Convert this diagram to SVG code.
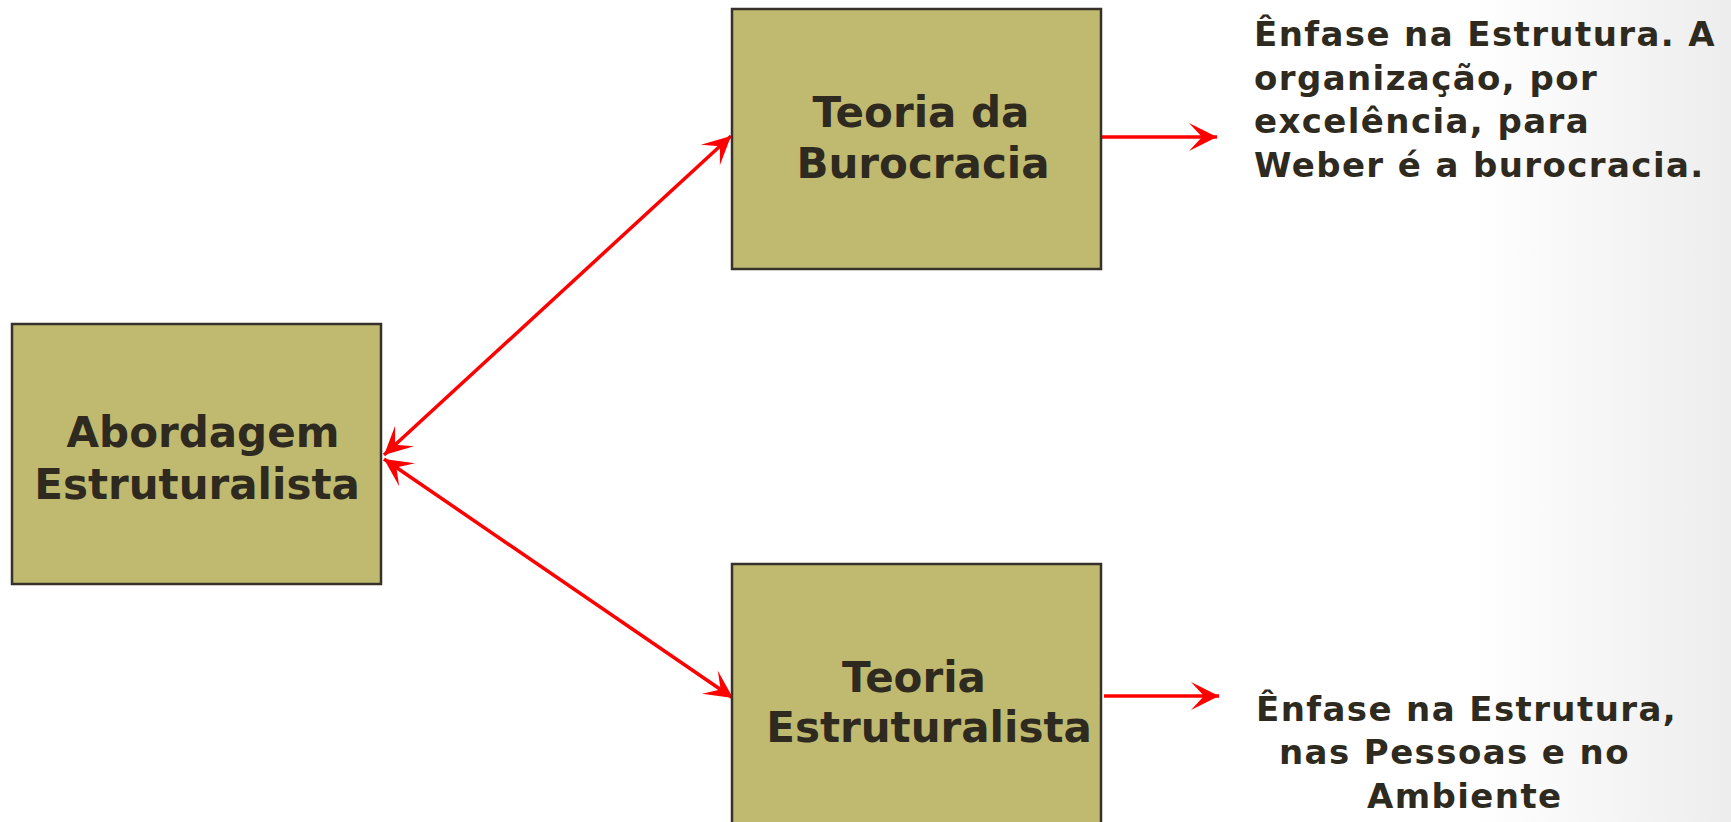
<svg xmlns="http://www.w3.org/2000/svg" width="1731" height="822" viewBox="0 0 1731 822">
<style>
.box{fill:#c0ba70;stroke:#36322a;stroke-width:2.5}
.t{font-family:"DejaVu Sans",Verdana,sans-serif;font-weight:bold;fill:#2e2a20}
.nt{font-size:42px;text-anchor:middle}
.st{font-size:34px;letter-spacing:1.4px}
.c{fill:none;stroke:#ff0000;stroke-width:3.5}
</style>
<defs>
<linearGradient id="bg" x1="0" y1="0" x2="1" y2="0">
<stop offset="0" stop-color="#ffffff"/>
<stop offset="0.85" stop-color="#ffffff"/>
<stop offset="1" stop-color="#ededed"/>
</linearGradient>
<marker id="ah" markerUnits="userSpaceOnUse" viewBox="-30 -16 32 32" refX="0" refY="0" markerWidth="32" markerHeight="32" orient="auto-start-reverse">
<path d="M0,0 L-28,-14 L-15,0 L-28,14 Z" fill="#ff0000"/>
</marker>
</defs>
<rect width="1731" height="822" fill="url(#bg)"/>
<g id="connectors">
<line class="c" x1="384" y1="455" x2="731" y2="136" marker-start="url(#ah)" marker-end="url(#ah)"/>
<line class="c" x1="384" y1="459" x2="733" y2="698" marker-start="url(#ah)" marker-end="url(#ah)"/>
<line class="c" x1="1102" y1="137" x2="1217" y2="137" marker-end="url(#ah)"/>
<line class="c" x1="1104" y1="696" x2="1219" y2="696" marker-end="url(#ah)"/>
</g>
<g id="node-burocracia">
<rect class="box" x="732" y="9" width="369" height="260"/>
<text class="t nt" x="921" y="127">Teoria da</text>
<text class="t nt" x="923" y="178">Burocracia</text>
</g>
<g id="node-abordagem">
<rect class="box" x="12" y="324" width="369" height="260"/>
<text class="t nt" x="203" y="447">Abordagem</text>
<text class="t nt" x="197" y="499">Estruturalista</text>
</g>
<g id="node-estruturalista">
<rect class="box" x="732" y="564" width="369" height="270"/>
<text class="t nt" x="914" y="692">Teoria</text>
<text class="t nt" x="929" y="742">Estruturalista</text>
</g>
<g id="note-burocracia">
<text class="t st" x="1254" y="46">Ênfase na Estrutura. A</text>
<text class="t st" x="1254" y="90">organização, por</text>
<text class="t st" x="1254" y="133">excelência, para</text>
<text class="t st" x="1254" y="177">Weber é a burocracia.</text>
</g>
<g id="note-estruturalista">
<text class="t st" x="1256" y="721">Ênfase na Estrutura,</text>
<text class="t st" x="1279" y="764">nas Pessoas e no</text>
<text class="t st" x="1367" y="808">Ambiente</text>
</g>
</svg>
